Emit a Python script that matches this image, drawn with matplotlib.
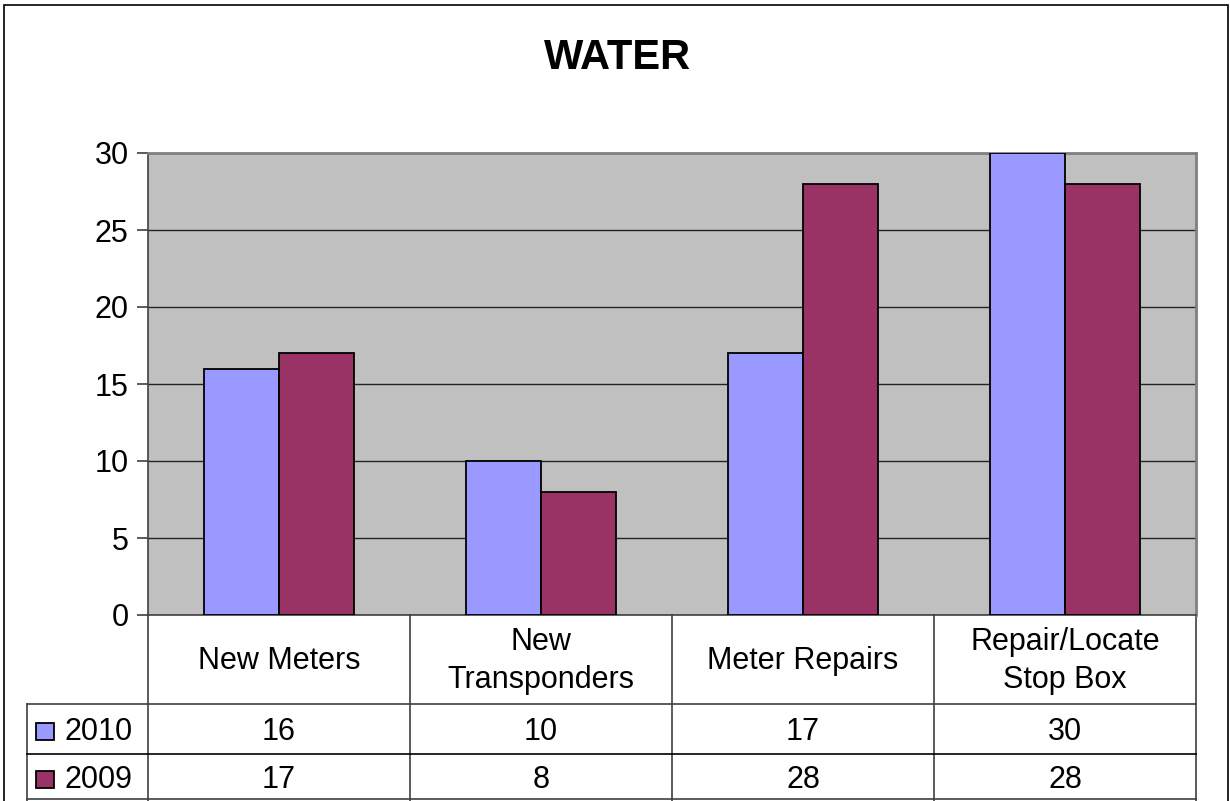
import matplotlib.pyplot as plt
import numpy as np
from matplotlib.patches import Rectangle

# data
categories = ['New Meters', 'New\nTransponders', 'Meter Repairs', 'Repair/Locate\nStop Box']
series_names = ['2010', '2009']
values_2010 = [16, 10, 17, 30]
values_2009 = [17, 8, 28, 28]
colors = ['#9999FF', '#993366']

plt.rcParams['font.family'] = ['Liberation Sans', 'DejaVu Sans']

W, H = 1230, 801
fig = plt.figure(figsize=(W / 100, H / 100), dpi=100)

# outer chart border
fig.patches.append(Rectangle((4 / W, -0.01), (W - 6) / W, 1.01 - 5 / H,
                             transform=fig.transFigure, fill=False,
                             edgecolor='black', linewidth=1.2))

fig.text(618 / W, 1 - 58 / H, 'WATER', ha='center', va='center',
         fontsize=30, fontweight='bold')

left, right, top, bottom = 148, 1196, 153, 615
ax = fig.add_axes([left / W, 1 - bottom / H, (right - left) / W, (bottom - top) / H])
ax.set_facecolor('#C0C0C0')

x = np.arange(len(categories))
bw = 0.286
ax.bar(x - bw / 2, values_2010, bw, color=colors[0], edgecolor='black', linewidth=1.3, zorder=3)
ax.bar(x + bw / 2, values_2009, bw, color=colors[1], edgecolor='black', linewidth=1.3, zorder=3)

ax.set_xlim(-0.5, len(categories) - 0.5)
ax.set_ylim(0, 30)
ax.set_yticks(range(0, 31, 5))
ax.yaxis.grid(True, color='#222222', linewidth=1.0, zorder=1)
ax.set_xticks([])
ax.tick_params(axis='y', labelsize=22, length=8, width=1.2, color='#404040', pad=6)
for s in ['top', 'right']:
    ax.spines[s].set_color('#808080')
    ax.spines[s].set_linewidth(2)
ax.spines['left'].set_color('#404040')
ax.spines['left'].set_linewidth(1.2)
ax.spines['bottom'].set_color('#404040')
ax.spines['bottom'].set_linewidth(1.2)

# data table below the plot
tr = ax.get_xaxis_transform()
ph = bottom - top
def yf(py):
    return (bottom - py) / ph

leg_x = -0.5 - (left - 27) / (right - left) * len(categories)
line_kw = dict(transform=tr, clip_on=False, color='#404040', linewidth=1.2)

# vertical lines
for i in range(len(categories) + 1):
    ax.plot([i - 0.5, i - 0.5], [yf(615), yf(801)], **line_kw)
ax.plot([leg_x, leg_x], [yf(704), yf(801)], **line_kw)
# horizontal lines
for py, c in [(704, '#404040'), (754, 'black'), (799, '#404040')]:
    ax.plot([leg_x, len(categories) - 0.5], [yf(py), yf(py)], transform=tr,
            clip_on=False, color=c, linewidth=1.2)

for i, cat in enumerate(categories):
    ax.text(i, yf(661), cat, transform=tr, ha='center', va='center',
            fontsize=22, linespacing=1.38, clip_on=False)

rows = [values_2010, values_2009]
row_mid = [732, 780]
for r, (name, vals) in enumerate(zip(series_names, rows)):
    for i, v in enumerate(vals):
        ax.text(i, yf(row_mid[r]), str(v), transform=tr, ha='center', va='center',
                fontsize=22, clip_on=False)
    ax.text(leg_x + 0.145, yf(row_mid[r]), name, transform=tr, ha='left', va='center',
            fontsize=22, clip_on=False)
    ax.add_patch(Rectangle((leg_x + 0.034, yf(row_mid[r] + 8)), 0.069, 17 / ph,
                           transform=tr, facecolor=colors[r], edgecolor='black',
                           linewidth=1.3, clip_on=False))

fig.savefig('out.png', dpi=100)
